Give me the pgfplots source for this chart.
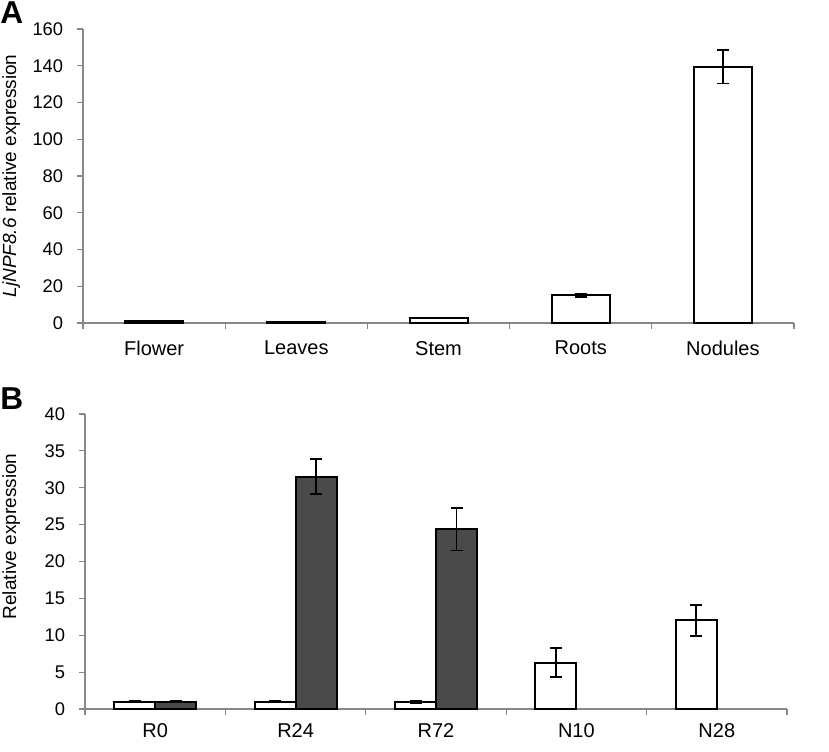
\documentclass[border=0pt]{standalone}
\usepackage{pgfplots}
\pgfplotsset{compat=1.18}
\usepackage{fontspec}
\setmainfont{Liberation Sans}
\definecolor{axgray}{RGB}{135,135,135}
\definecolor{darkbar}{RGB}{74,74,74}
\pgfplotsset{
  mystyle/.style={
    scale only axis,
    axis x line=bottom, axis y line=left,
    axis line style={-, draw=axgray, line width=0.7pt},
    every tick/.style={draw=axgray, line width=0.7pt},
    tick align=outside,
    major x tick style={draw=axgray},
    xtick={-0.5,0.5,1.5,2.5,3.5,4.5},
    x tick label as interval,
    xmin=-0.5, xmax=4.5,
    ymin=0,
    major tick length=3.4pt,
    yticklabel={\pgfmathprintnumber[assume math mode=true]{\tick}},
    every y tick label/.append style={font=\fontsize{11}{12}\selectfont, anchor=east, xshift=-5pt},
    xticklabel style={font=\fontsize{12}{13}\selectfont, yshift=-4pt},
    ylabel style={font=\fontsize{11.4}{12}\selectfont, anchor=center},
    ybar=0pt,
    error bars/y dir=both, error bars/y explicit,
    error bars/error bar style={line width=1.1pt, black},
    error bars/error mark options={rotate=90, mark size=3.6pt, line width=1.1pt, black},
    clip=false,
  }
}
\begin{document}
\begin{tikzpicture}
\path[use as bounding box] (0,0) rectangle (497.4pt,451.2pt);
\node[anchor=base west, inner sep=0pt, font=\fontsize{19}{19}\selectfont\bfseries] at (0pt,436.8pt) {A};
\node[anchor=base west, inner sep=0pt, font=\fontsize{19}{19}\selectfont\bfseries] at (0pt,205.2pt) {B};
\begin{axis}[mystyle,
  at={(49.8pt,257.4pt)}, anchor=south west,
  width=426.6pt, height=176.4pt,
  ymax=160, ytick={0,20,...,160},
  xticklabels={Flower,Leaves,Stem,Roots,Nodules},
  bar width=34.8pt,
  ylabel={\textit{LjNPF8.6} relative expression},
  ylabel style={at={(axis description cs:-0.101,0.5)}},
]
\addplot[draw=black, fill=white, line width=1.2pt] coordinates {
  (0,1.0) +- (0,0.1)
  (1,0.6) +- (0,0.05)
  (2,2.7) +- (0,0.3)
  (3,15.0) +- (0,0.9)
  (4,139.5) +- (0,9.2)
};
\end{axis}
\begin{axis}[mystyle,
  at={(51pt,25.8pt)}, anchor=south west,
  width=421.2pt, height=177pt,
  ymax=40, ytick={0,5,...,40},
  xticklabels={R0,R24,R72,N10,N28},
  bar width=24.6pt,
  xticklabel style={yshift=2.4pt},
  ylabel={Relative expression},
  ylabel style={at={(axis description cs:-0.105,0.585)}},
]
\addplot[draw=black, fill=white, line width=1.2pt] coordinates {
  (0,1.0) +- (0,0.05)
  (1,1.0) +- (0,0.05)
  (2,0.9) +- (0,0.15)
  (3,6.3) +- (0,1.95)
  (4,12.0) +- (0,2.15)
};
\addplot[draw=black, fill=darkbar, line width=1.2pt] coordinates {
  (0,1.0) +- (0,0.05)
  (1,31.5) +- (0,2.35)
  (2,24.4) +- (0,2.9)
};
\end{axis}
\end{tikzpicture}
\end{document}
